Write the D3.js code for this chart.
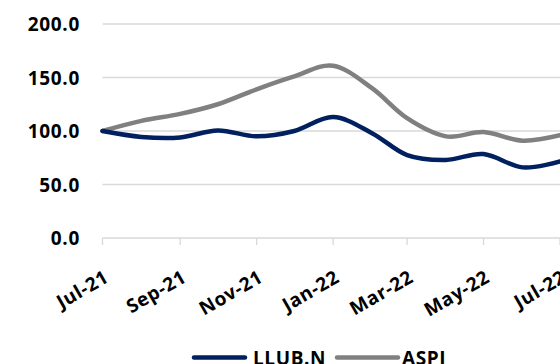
<!DOCTYPE html>
<html><head><meta charset="utf-8">
<script src="https://cdn.jsdelivr.net/npm/d3@7"></script>
<style>body{margin:0;background:#fff}svg{display:block}text{font-family:"Open Sans",sans-serif;font-weight:700;fill:#000}</style>
</head><body><svg id="c" width="560" height="364"></svg>
<script>
const months = ["2021-07","2021-08","2021-09","2021-10","2021-11","2021-12","2022-01","2022-02","2022-03","2022-04","2022-05","2022-06","2022-07"];
const llub = [100, 94.5, 94, 100.5, 95, 100, 113, 98, 77.5, 73, 78.5, 66, 71.5];
const aspi = [100, 109.5, 116, 125, 139, 151, 161, 140, 112, 95, 99, 91, 96];
const yTicks = [0, 50, 100, 150, 200];
const xTickLabels = ["Jul-21","Sep-21","Nov-21","Jan-22","Mar-22","May-22","Jul-22"];
const seriesNames = ["LLUB.N","ASPI"];
const colors = ["#002060","#808080"];

const parse = d3.timeParse("%Y-%m");
const dates = months.map(parse);
const svg = d3.select("#c");
const x = d3.scaleTime().domain([parse("2021-07"), parse("2022-07")]).range([102.5, 560]);
const y = d3.scaleLinear().domain([0, 200]).range([238, 24]);

// gridlines
svg.append("g").selectAll("line").data(yTicks.filter(d=>d>0)).join("line")
  .attr("x1", 102.5).attr("x2", 560).attr("y1", d=>y(d)).attr("y2", d=>y(d))
  .attr("stroke", "#d9d9d9").attr("stroke-width", 1.3);

// y labels
svg.append("g").selectAll("text").data(yTicks).join("text")
  .attr("x", 80).attr("y", d=>y(d)).attr("text-anchor","end").attr("dominant-baseline","central")
  .style("font-size","19px").style("letter-spacing","0.7px").text(d=>d.toFixed(1));

// x axis
const tickDates = xTickLabels.map(s=>d3.timeParse("%b-%y")(s));
const xa = svg.append("g");
xa.append("line").attr("x1",102.5).attr("x2",560).attr("y1",238).attr("y2",238).attr("stroke","#d9d9d9").attr("stroke-width",1.3);
xa.selectAll("line.t").data(tickDates).join("line").attr("class","t")
  .attr("x1",d=>x(d)).attr("x2",d=>x(d)).attr("y1",238).attr("y2",245)
  .attr("stroke","#d9d9d9").attr("stroke-width",1.3);
xa.selectAll("text").data(tickDates).join("text")
  .attr("transform", d=>`translate(${x(d)+4},275) rotate(-30)`)
  .attr("text-anchor","end").attr("dominant-baseline","central")
  .style("font-size","19px").style("letter-spacing","0.6px").text((d,i)=>xTickLabels[i]);

// lines
const line = d3.line().x((d,i)=>x(dates[i])).y(d=>y(d)).curve(d3.curveCardinal.tension(0));
[aspi, llub].forEach((s,k)=>{
  svg.append("path").datum(s).attr("d", line).attr("fill","none")
    .attr("stroke", k===0?colors[1]:colors[0]).attr("stroke-width",4.5).attr("stroke-linecap","round");
});

// legend
const lg = svg.append("g");
const lx = [[194,245,253],[337,398,402]];
seriesNames.forEach((n,i)=>{
  lg.append("line").attr("x1",lx[i][0]).attr("x2",lx[i][1]).attr("y1",357.5).attr("y2",357.5)
    .attr("stroke",colors[i]).attr("stroke-width",4.5).attr("stroke-linecap","round");
  lg.append("text").attr("x",lx[i][2]).attr("y",358).attr("dominant-baseline","central")
    .style("font-size","19px").style("letter-spacing","0.6px").text(n);
});
</script></body></html>
